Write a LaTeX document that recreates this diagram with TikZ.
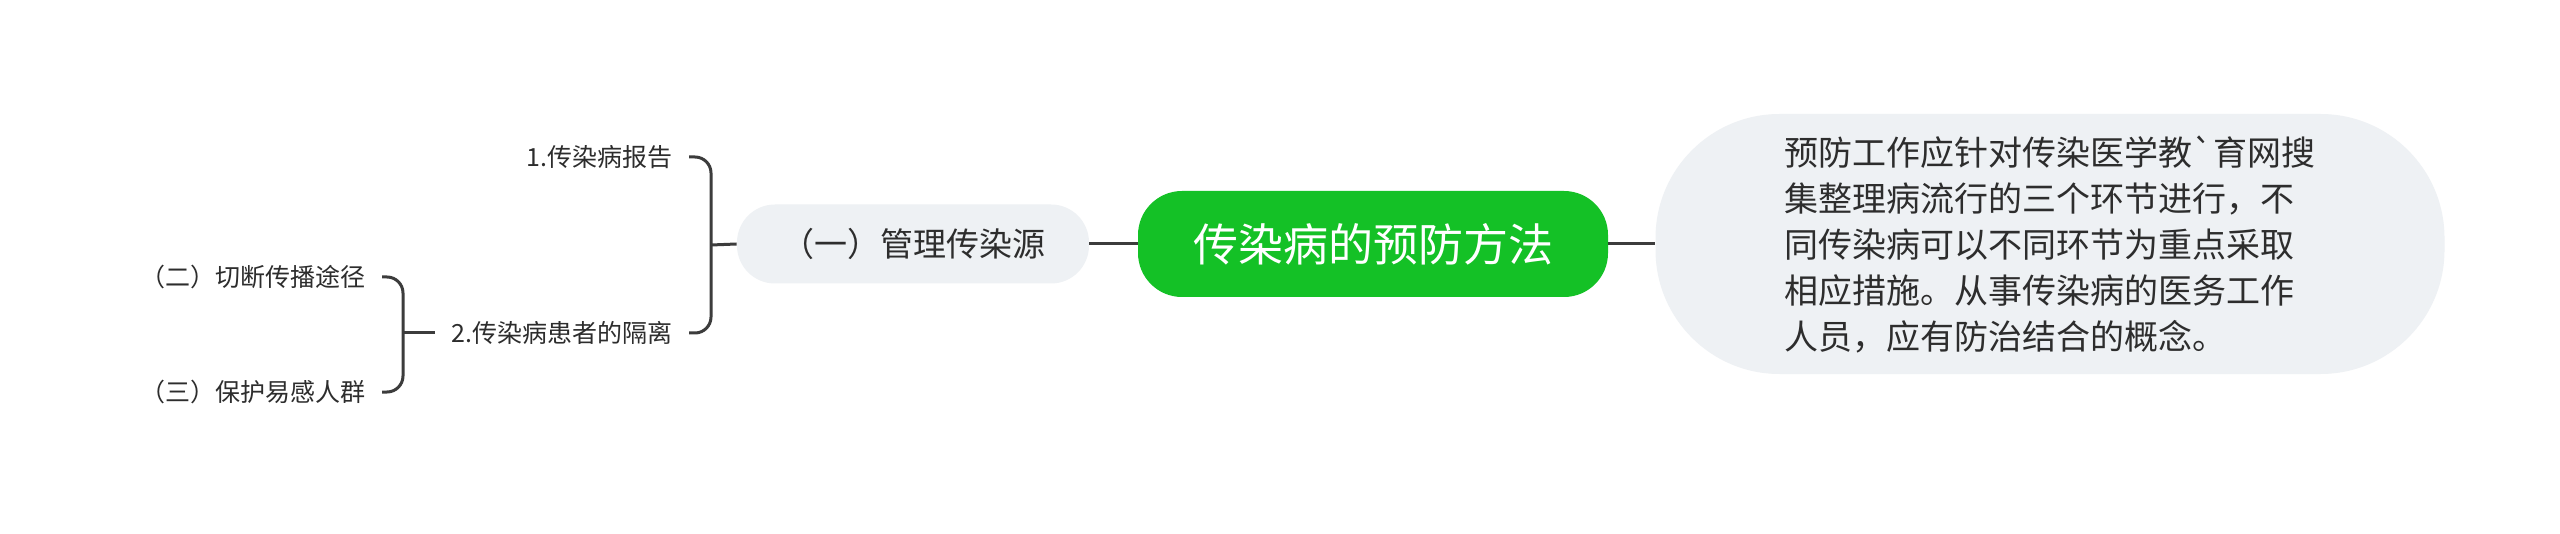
\documentclass[tikz,border=0pt]{standalone}
\usepackage{fontspec}
\setmainfont{Noto Sans CJK SC}
\font\gravefont="Noto Sans CJK SC" at 17pt
\definecolor{maingreen}{RGB}{20,193,38}
\definecolor{softgray}{RGB}{238,241,244}
\definecolor{linec}{RGB}{60,60,60}
\definecolor{textc}{RGB}{45,45,45}
\tikzset{
  conn/.style={draw=linec, line width=1.5pt},
  leaf/.style={inner xsep=8pt, inner ysep=2pt, text=textc, font=\fontsize{12.5pt}{15pt}\selectfont},
  rootbox/.style={fill=maingreen, rounded corners=22pt, minimum width=235pt, minimum height=53pt, text=white, inner sep=0pt, font=\fontsize{22.5pt}{27pt}\selectfont},
  graybox/.style={fill=softgray, text=textc, inner sep=0pt}
}
\begin{document}
\begin{tikzpicture}[x=0.5pt,y=-0.5pt]
\useasboundingbox (0,0) rectangle (2560,534);
\fill[white] (0,0) rectangle (2560,534);
% central node
\node[rootbox] (main) at (1373,244) {传染病的预防方法};
% description node
\node[graybox, rounded corners=62pt, minimum width=394.5pt, minimum height=130pt, align=left,
      font=\fontsize{17pt}{23pt}\selectfont] (desc) at (2050,244)
  {预防工作应针对传染医学教{\gravefont`}育网搜\\集整理病流行的三个环节进行，不\\同传染病可以不同环节为重点采取\\相应措施。从事传染病的医务工作\\人员，应有防治结合的概念。};
% source node
\node[graybox, rounded corners=19pt, minimum width=176pt, minimum height=39.5pt,
      font=\fontsize{16.5pt}{20pt}\selectfont] (src) at (913,244) {（一）管理传染源};
% leaves
\node[leaf, anchor=east] (l1) at (689,157) {1.传染病报告};
\node[leaf, anchor=east] (l2) at (689,333) {2.传染病患者的隔离};
\node[leaf, anchor=east] (l3) at (382,277) {（二）切断传播途径};
\node[leaf, anchor=east] (l4) at (382,392) {（三）保护易感人群};
% connectors
\draw[conn] (src.east) -- (main.west);
\draw[conn] (main.east) -- (desc.west);
\coordinate (b1) at (711,245);
\coordinate (b2) at (403,333);
\draw[conn, rounded corners=8pt] (l1.east) -| (b1) |- (l2.east);
\draw[conn] (b1) -- (src.west);
\draw[conn, rounded corners=8pt] (l3.east) -| (b2) |- (l4.east);
\draw[conn] (b2) -- (l2.west);
\end{tikzpicture}
\end{document}
